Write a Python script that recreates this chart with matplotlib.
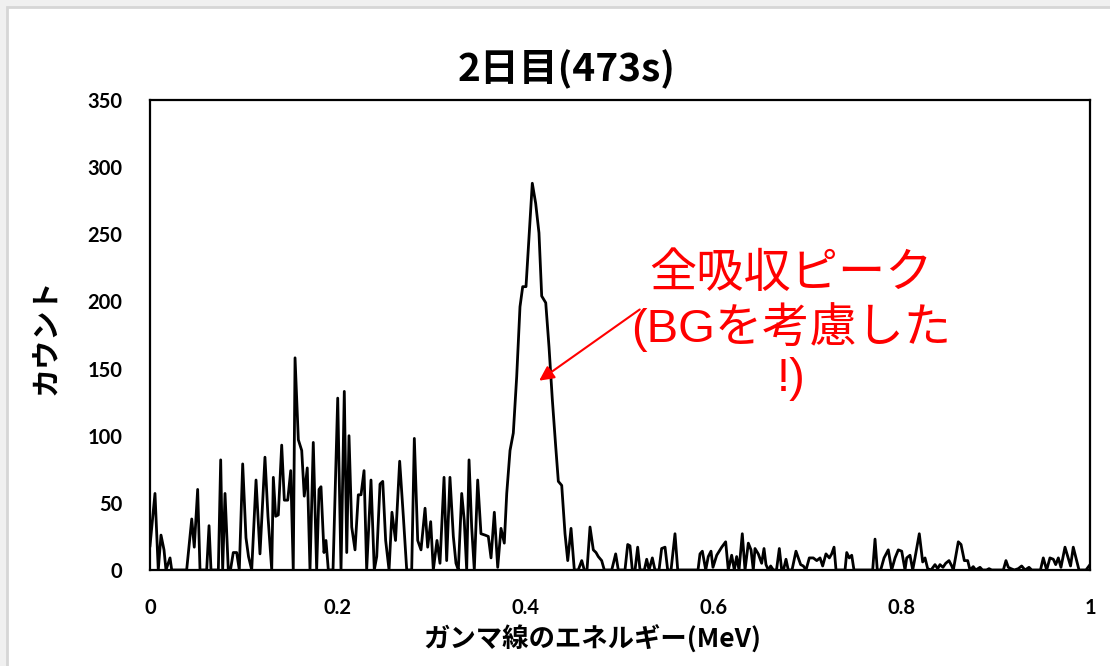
import matplotlib
matplotlib.use("Agg")
import matplotlib.pyplot as plt
from matplotlib.patches import Rectangle

# Gamma-ray spectrum, day 2 (live time 473 s), background subtracted
energy_mev = [
    0.0000, 0.0053, 0.0088, 0.0117, 0.0149, 0.0170, 0.0213, 0.0231, 0.0390, 0.0444,
    0.0471, 0.0507, 0.0532, 0.0603, 0.0628, 0.0649, 0.0727, 0.0752, 0.0773, 0.0798,
    0.0833, 0.0856, 0.0886, 0.0922, 0.0950, 0.0986, 0.1021, 0.1048, 0.1082, 0.1128,
    0.1170, 0.1223, 0.1255, 0.1295, 0.1312, 0.1337, 0.1365, 0.1401, 0.1429, 0.1465,
    0.1497, 0.1524, 0.1543, 0.1578, 0.1614, 0.1641, 0.1673, 0.1702, 0.1737, 0.1773,
    0.1798, 0.1819, 0.1851, 0.1872, 0.1897, 0.1947, 0.1997, 0.2032, 0.2067, 0.2093,
    0.2117, 0.2146, 0.2181, 0.2216, 0.2245, 0.2277, 0.2305, 0.2351, 0.2386, 0.2412,
    0.2447, 0.2476, 0.2507, 0.2543, 0.2574, 0.2612, 0.2656, 0.2695, 0.2731, 0.2784,
    0.2812, 0.2848, 0.2883, 0.2926, 0.2954, 0.2986, 0.3014, 0.3053, 0.3085, 0.3128,
    0.3156, 0.3191, 0.3227, 0.3255, 0.3280, 0.3316, 0.3343, 0.3369, 0.3394, 0.3422,
    0.3450, 0.3486, 0.3521, 0.3564, 0.3599, 0.3628, 0.3663, 0.3699, 0.3734, 0.3769,
    0.3795, 0.3830, 0.3865, 0.3901, 0.3936, 0.3965, 0.4000, 0.4032, 0.4067, 0.4103,
    0.4138, 0.4167, 0.4210, 0.4245, 0.4280, 0.4316, 0.4344, 0.4380, 0.4415, 0.4444,
    0.4479, 0.4514, 0.4556, 0.4593, 0.4620, 0.4649, 0.4681, 0.4716, 0.4745, 0.4769,
    0.4805, 0.4833, 0.4912, 0.4954, 0.4982, 0.5053, 0.5082, 0.5106, 0.5131, 0.5160,
    0.5188, 0.5213, 0.5259, 0.5284, 0.5309, 0.5344, 0.5372, 0.5415, 0.5443, 0.5479,
    0.5507, 0.5543, 0.5585, 0.5614, 0.5830, 0.5851, 0.5876, 0.5912, 0.5939, 0.5968,
    0.5989, 0.6029, 0.6082, 0.6124, 0.6152, 0.6188, 0.6216, 0.6241, 0.6266, 0.6301,
    0.6330, 0.6365, 0.6394, 0.6418, 0.6436, 0.6471, 0.6507, 0.6532, 0.6553, 0.6578,
    0.6603, 0.6631, 0.6665, 0.6695, 0.6720, 0.6739, 0.6766, 0.6790, 0.6830, 0.6872,
    0.6897, 0.6922, 0.6950, 0.6979, 0.7014, 0.7056, 0.7093, 0.7128, 0.7156, 0.7191,
    0.7227, 0.7252, 0.7277, 0.7298, 0.7394, 0.7412, 0.7439, 0.7465, 0.7489, 0.7688,
    0.7713, 0.7737, 0.7773, 0.7809, 0.7854, 0.7890, 0.7926, 0.7961, 0.7997, 0.8032,
    0.8050, 0.8085, 0.8114, 0.8138, 0.8184, 0.8220, 0.8245, 0.8273, 0.8309, 0.8351,
    0.8380, 0.8404, 0.8436, 0.8465, 0.8500, 0.8529, 0.8546, 0.8599, 0.8628, 0.8663,
    0.8699, 0.8723, 0.8758, 0.8784, 0.8830, 0.8856, 0.8899, 0.8926, 0.8954, 0.9078,
    0.9106, 0.9131, 0.9160, 0.9195, 0.9237, 0.9273, 0.9309, 0.9351, 0.9380, 0.9473,
    0.9503, 0.9539, 0.9574, 0.9610, 0.9635, 0.9663, 0.9691, 0.9734, 0.9763, 0.9793,
    0.9822, 0.9858, 0.9883, 0.9957, 0.9989, 1.0000,
]
counts = [
    18, 57, 0, 26, 15, 0, 9, 0, 0, 38,
    17, 60, 0, 0, 33, 0, 0, 82, 0, 57,
    0, 0, 13, 13, 0, 79, 24, 10, 0, 67,
    12, 84, 40, 0, 69, 40, 41, 93, 52, 52,
    74, 0, 158, 97, 89, 55, 76, 0, 95, 0,
    60, 62, 13, 22, 0, 0, 128, 0, 133, 13,
    100, 32, 15, 56, 56, 74, 0, 67, 0, 10,
    64, 66, 22, 0, 43, 22, 81, 40, 0, 0,
    98, 22, 15, 46, 17, 36, 0, 22, 5, 69,
    7, 69, 25, 5, 0, 57, 37, 0, 82, 32,
    0, 67, 27, 26, 25, 9, 43, 2, 31, 20,
    57, 89, 102, 144, 196, 211, 211, 248, 288, 273,
    251, 204, 199, 166, 127, 92, 66, 63, 27, 7,
    31, 0, 0, 7, 0, 0, 32, 15, 13, 10,
    7, 0, 0, 12, 0, 0, 19, 18, 0, 0,
    17, 0, 0, 8, 0, 9, 0, 0, 16, 17,
    0, 0, 27, 0, 0, 12, 14, 0, 10, 14,
    2, 11, 17, 21, 0, 11, 0, 10, 0, 27,
    0, 20, 15, 0, 16, 12, 5, 16, 4, 0,
    3, 0, 0, 16, 0, 0, 8, 0, 0, 14,
    9, 4, 3, 0, 9, 9, 7, 9, 3, 12,
    9, 12, 17, 0, 0, 13, 9, 11, 0, 0,
    23, 0, 0, 9, 15, 0, 9, 15, 14, 0,
    9, 11, 0, 9, 27, 6, 9, 1, 0, 4,
    1, 4, 2, 5, 7, 3, 0, 21, 19, 7,
    7, 0, 2.5, 0, 2, 0, 0, 1, 0, 0,
    7, 2, 1, 0, 1, 3, 0, 2, 0, 0,
    9, 0, 9, 8, 4, 9, 2, 17, 10, 3,
    17, 7, 0, 0, 3, 4,
]

x_ticks = [0, 0.2, 0.4, 0.6, 0.8, 1]
x_tick_labels = ["0", "0.2", "0.4", "0.6", "0.8", "1"]
y_ticks = [0, 50, 100, 150, 200, 250, 300, 350]

title_text = "2日目(473s)"
x_label = "ガンマ線のエネルギー(MeV)"
y_label = "カウント"
note_text = "全吸収ピーク\n(BGを考慮した\n!)"
arrow_tail = (0.521, 194)
arrow_head = (0.414, 141)

W, H = 1110, 666
fig = plt.figure(figsize=(W / 100, H / 100), dpi=100)
fig.patch.set_facecolor("#f0f0f0")

# white card with a soft grey edge, kept behind the axes
card = Rectangle((7 / W, -0.05), 1.2, (H - 7) / H + 0.05,
                 transform=fig.transFigure, facecolor="white",
                 edgecolor="#d6d6d6", linewidth=2.0, zorder=-10)
fig.patches.append(card)

ax = fig.add_axes([150 / W, 1 - 570 / H, 940 / W, 470 / H])
ax.set_zorder(1)
ax.patch.set_alpha(0)
ax.plot(energy_mev, counts, color="black", linewidth=2.0)
ax.set_xlim(0, 1)
ax.set_ylim(0, 350)

ax.set_xticks(x_ticks)
ax.set_xticklabels(x_tick_labels)
ax.set_yticks(y_ticks)
ax.tick_params(length=0, labelsize=14.5, pad=20)
for lab in ax.get_xticklabels() + ax.get_yticklabels():
    lab.set_fontfamily(["Lato", "DejaVu Sans"])
    lab.set_fontweight("bold")
for sp in ax.spines.values():
    sp.set_linewidth(1.6)
    sp.set_color("black")

jp = ["Noto Sans CJK JP"]
fig.text(567 / W, 1 - 69 / H, title_text, ha="center", va="center",
         fontsize=28, fontweight="bold", family=jp)
fig.text(592 / W, 1 - 640 / H, x_label, ha="center", va="center",
         fontsize=19, fontweight="bold", family=jp)
fig.text(46 / W, 1 - 337 / H, y_label, ha="center", va="center",
         rotation=90, fontsize=21, fontweight="bold", family=jp)

ax.annotate("", xy=arrow_head, xytext=arrow_tail,
            arrowprops=dict(arrowstyle="-|>", color="#ff0000", lw=1.5,
                            mutation_scale=22, shrinkA=0, shrinkB=0))
fig.text(791 / W, 1 - 327 / H, note_text, ha="center", va="center",
         fontsize=34, color="#ff0000", linespacing=1.13,
         family=["Liberation Sans", "Noto Sans CJK JP"])

fig.savefig("out.png", dpi=100, facecolor=fig.get_facecolor())
